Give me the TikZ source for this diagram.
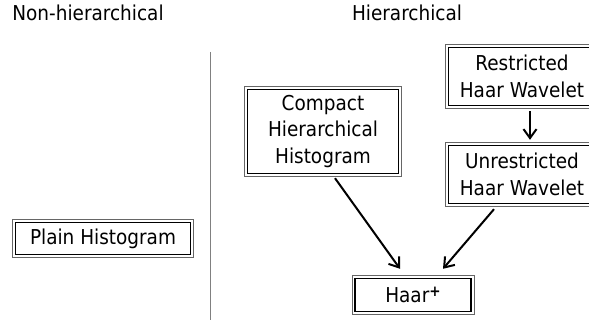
\documentclass[tikz,border=0pt]{standalone}
\usepackage{fontspec}
\setmainfont{DejaVu Sans}[FakeStretch=0.9]
\usetikzlibrary{calc,arrows.meta}

\begin{document}
\begin{tikzpicture}[x=1pt, y=-1pt, font=\fontsize{20.5}{26.5}\selectfont]
\tikzstyle{box}=[draw=black, line width=1.4pt, align=center, inner sep=2pt]
\tikzstyle{rim}=[draw=black!60, line width=0.8pt]
\tikzstyle{arr}=[line width=2pt, -{Straight Barb[length=9pt,width=13pt,line width=2pt]}]
\useasboundingbox (0,0) rectangle (589,320);
% column titles
\node (nonhier) at (88,13) {Non-hierarchical};
\node (hier) at (407,13) {Hierarchical};
\draw[gray, line width=1pt] (210,52) -- (210,320);
% boxes
\node[box, minimum width=175pt, minimum height=32pt] (plain) at (103,238.5) {Plain Histogram};
\node[box, minimum width=151pt, minimum height=84pt] (chh) at (323,131.5) {Compact\\Hierarchical\\Histogram};
\node[box, minimum width=147pt, minimum height=58pt] (rhw) at (522,76.5) {Restricted\\Haar Wavelet};
\node[box, minimum width=147pt, minimum height=58pt] (uhw) at (522,174.5) {Unrestricted\\Haar Wavelet};
\node[box, minimum width=116pt, minimum height=33pt] (haar) at (413,295) {Haar\raisebox{5.5pt}{\fontsize{15}{15}\selectfont\bfseries +}};
\foreach \n in {plain,chh,rhw,uhw,haar}{\draw[rim] ([shift={(-2.4pt,-2.4pt)}]\n.south west) rectangle ([shift={(2.4pt,2.4pt)}]\n.north east);}
% arrows
\draw[arr] ($(rhw.south)+(8,5)$) -- ($(uhw.north)+(8,-5)$);
\draw[arr] ($(chh.south)+(12,4)$) -- ($(haar.north)+(-13,-9)$);
\draw[arr] ($(uhw.south)+(-28,5)$) -- ($(haar.north)+(30,-9)$);
\end{tikzpicture}
\end{document}
